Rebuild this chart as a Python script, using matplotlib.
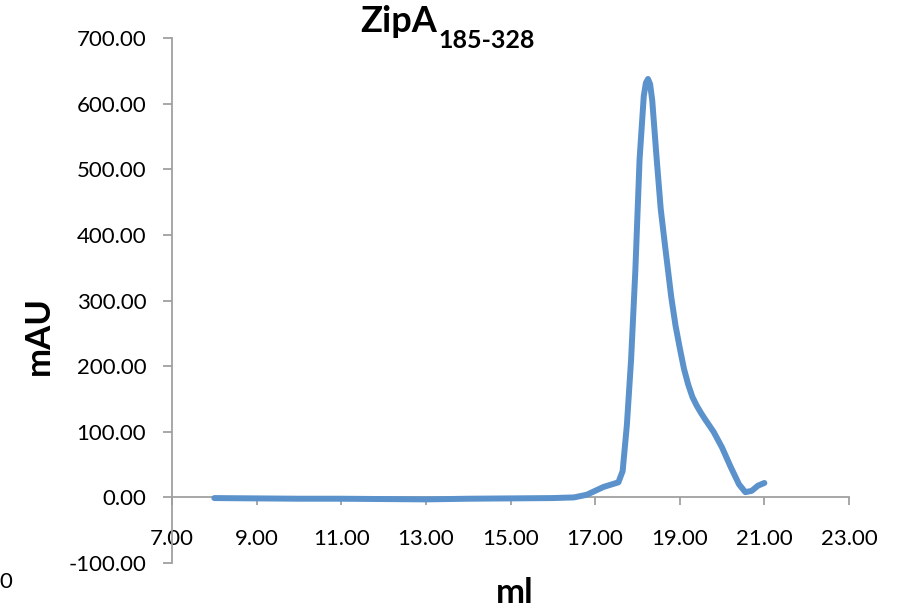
import matplotlib
matplotlib.use("Agg")
import matplotlib.pyplot as plt

# Data
volume_ml = [8.0, 9.0, 10.0, 11.0, 12.0, 13.0, 14.0, 15.0, 16.0, 16.5, 16.8,
             17.0, 17.2, 17.4, 17.55, 17.65, 17.75, 17.85, 17.95, 18.05, 18.15,
             18.2, 18.25, 18.3, 18.35, 18.45, 18.55, 18.65, 18.8, 18.9, 19.0,
             19.1, 19.2, 19.3, 19.4, 19.5, 19.6, 19.8, 20.0, 20.2, 20.4, 20.55,
             20.7, 20.85, 21.0]
absorbance_mau = [-1, -1.5, -2, -2, -2.5, -3, -2, -1.5, -1, 0, 4,
                  10, 16, 20, 23, 40, 110, 210, 345, 515, 612,
                  632, 638, 630, 605, 520, 440, 385, 305, 262, 228,
                  196, 172, 153, 140, 129, 119, 100, 76, 47, 20, 8,
                  10, 18, 22]

x_ticks = [7, 9, 11, 13, 15, 17, 19, 21, 23]
y_ticks = [-100, 0, 100, 200, 300, 400, 500, 600, 700]

W, H = 897, 612
fig = plt.figure(figsize=(W / 100, H / 100), dpi=100)
ax = fig.add_axes([172 / W, 1 - 563 / H, (849 - 172) / W, (563 - 38.3) / H])

line_color = "#5B92CB"
spine_color = "#A0A0A0"
font = "Lato"

for s in ["top", "right"]:
    ax.spines[s].set_visible(False)
ax.spines["bottom"].set_position(("data", 0))
for s in ["left", "bottom"]:
    ax.spines[s].set_color(spine_color)
    ax.spines[s].set_linewidth(1.3)

ax.plot(volume_ml, absorbance_mau, color=line_color, linewidth=4.3,
        solid_joinstyle="round", solid_capstyle="round", zorder=3)

ax.set_xlim(7, 23)
ax.set_ylim(-100, 700)
ax.set_xticks(x_ticks)
ax.set_yticks(y_ticks)
ax.set_xticklabels([f"{v:.2f}" for v in x_ticks])
ax.set_yticklabels([f"{v:.2f}" for v in y_ticks])
for lab in ax.get_xticklabels() + ax.get_yticklabels():
    lab.set_fontfamily(font)
    lab.set_fontsize(16)

ax.tick_params(axis="y", direction="out", length=6.5, width=1.3,
               color=spine_color, pad=12)
ax.tick_params(axis="x", direction="out", length=5.5, width=1.3,
               color=spine_color, pad=17)

# Title with subscript
t1 = fig.text(360 / W, 1 - 32 / H, "ZipA", fontfamily=font, fontweight="bold",
              fontsize=26, ha="left", va="baseline")
ax.annotate("185-328", xy=(1, 0), xycoords=t1, xytext=(1, -7),
            textcoords="offset points", fontfamily=font, fontweight="bold",
            fontsize=18, ha="left", va="baseline")

# Axis labels
fig.text(515 / W, 1 - 603 / H, "ml", fontfamily=font, fontweight="bold",
         fontsize=25, ha="center", va="baseline")
fig.text(39 / W, 1 - 335 / H, "mAU", fontfamily=font, fontweight="bold",
         fontsize=25, ha="center", va="center", rotation=90)

# Clipped label remnant at lower left
fig.text(12 / W, 1 - 582 / H, "0", fontfamily=font, fontsize=16,
         ha="right", va="center")

fig.savefig("out.png", dpi=100)
